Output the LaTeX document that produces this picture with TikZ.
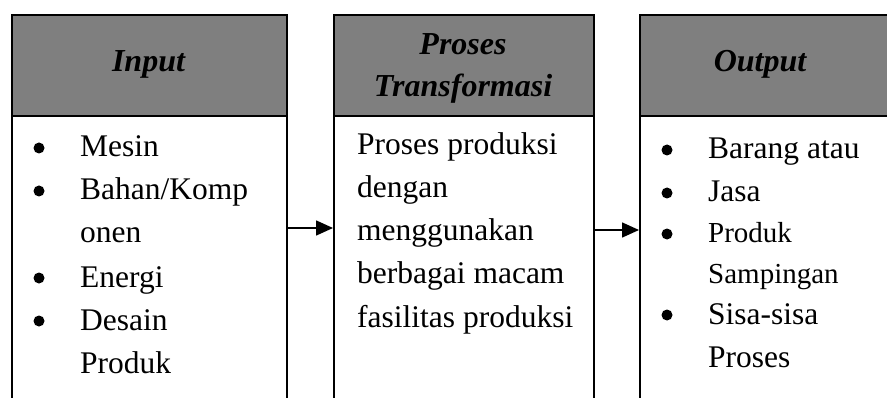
\documentclass[tikz,border=0pt]{standalone}
\usepackage{fontspec}
\setmainfont{Liberation Serif}
\usetikzlibrary{arrows.meta}
\definecolor{headgray}{HTML}{7F7F7F}

\begin{document}
\begin{tikzpicture}[x=1pt, y=1pt,
  headbox/.style={draw, fill=headgray, line width=1.6pt, anchor=north west, inner sep=0pt, minimum height=101pt},
  bodybox/.style={draw, fill=white, line width=1.6pt, anchor=north west, inner sep=0pt, minimum height=330pt},
  headtext/.style={font=\fontsize{32}{42}\selectfont\bfseries\itshape, align=center, inner sep=0pt},
  item/.style={font=\fontsize{31.5}{40}\selectfont, anchor=base west, inner sep=0pt},
  smallitem/.style={font=\fontsize{29}{38}\selectfont, anchor=base west, inner sep=0pt},
  dot/.style={circle, fill=black, inner sep=0pt, minimum size=11pt, yshift=9pt},
  flow/.style={line width=1.6pt, -{Triangle[length=17pt,width=15pt]}}]

\useasboundingbox (0,0) rectangle (887,397);
\clip (0,0) rectangle (887,397);

% the three boxes, open at the bottom
\node[bodybox, minimum width=275pt] (inbody) at (11,282) {};
\node[headbox, minimum width=275pt] (inhead) at (11,383) {};
\node[bodybox, minimum width=260pt] (probody) at (333,282) {};
\node[headbox, minimum width=260pt] (prohead) at (333,383) {};
\node[bodybox, minimum width=270pt] (outbody) at (639,282) {};
\node[headbox, minimum width=270pt] (outhead) at (639,383) {};

\node[headtext] (intitle) at (148.5,332.5) {Input};
\node[headtext] (protitle) at (463,328.5) {Proses\\Transformasi};
\node[headtext] (outtitle) at (760,332.5) {Output};

% input items
\node[dot] (ind1) at (39,240) {};
\node[item] (in1) at (80,240) {Mesin};
\node[dot] (ind2) at (39,197) {};
\node[item] (in2) at (80,197) {Bahan/Komp};
\node[item] (in3) at (80,154) {onen};
\node[dot] (ind3) at (39,110) {};
\node[item] (in4) at (80,110) {Energi};
\node[dot] (ind4) at (39,67) {};
\node[item] (in5) at (80,67) {Desain};
\node[item] (in6) at (80,24) {Produk};

% process text
\node[item] (pro1) at (357,242) {Proses produksi};
\node[item] (pro2) at (357,199) {dengan};
\node[item] (pro3) at (357,157) {menggunakan};
\node[item] (pro4) at (357,114) {berbagai macam};
\node[item] (pro5) at (357,70) {fasilitas produksi};

% output items
\node[dot] (outd1) at (667,238) {};
\node[item] (out1) at (708,238) {Barang atau};
\node[dot] (outd2) at (667,195) {};
\node[item] (out2) at (708,195) {Jasa};
\node[dot] (outd3) at (667,154) {};
\node[smallitem] (out3) at (708,154) {Produk};
\node[smallitem] (out4) at (708,114) {Sampingan};
\node[dot] (outd4) at (667,73) {};
\node[item] (out5) at (708,73) {Sisa-sisa};
\node[item] (out6) at (708,30) {Proses};

% arrows
\coordinate (lvl1) at (0,169);
\coordinate (lvl2) at (0,167);
\draw[flow] (inbody.east |- lvl1) -- (probody.west |- lvl1);
\draw[flow] (probody.east |- lvl2) -- (outbody.west |- lvl2);

\end{tikzpicture}
\end{document}
